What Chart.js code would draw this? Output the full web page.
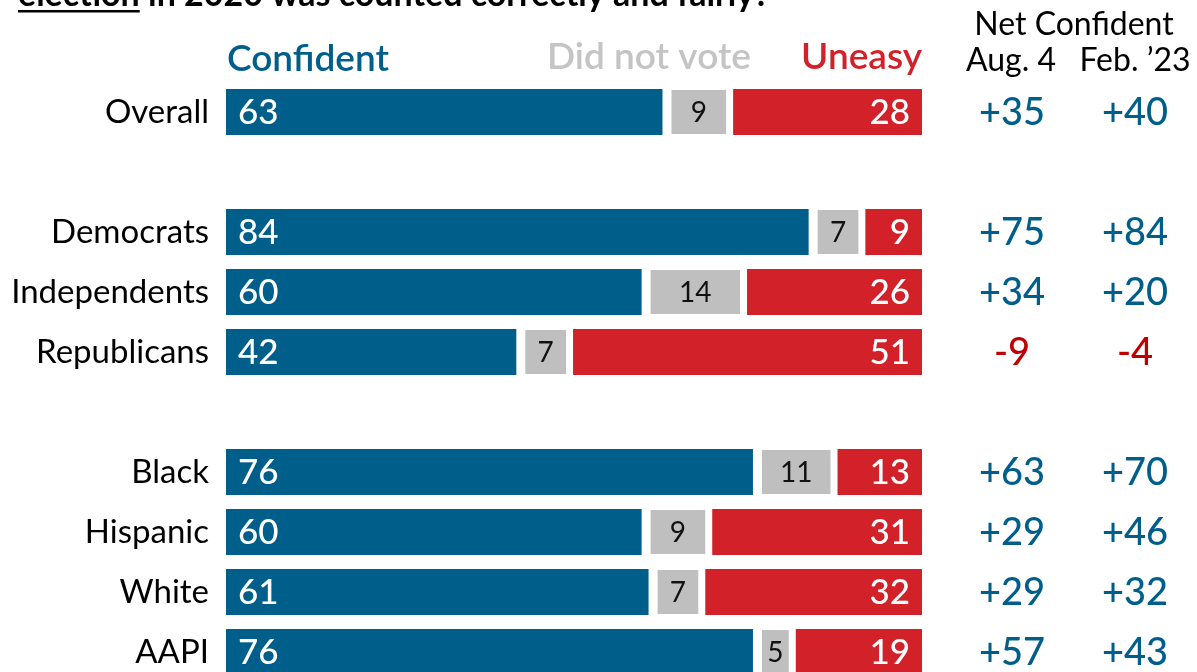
<!DOCTYPE html>
<html><head><meta charset="utf-8">
<script src="https://cdn.jsdelivr.net/npm/chart.js@4.4.1/dist/chart.umd.min.js"></script>
<style>html,body{margin:0;padding:0;background:#fff;overflow:hidden;width:1197px;height:672px}
#wrap{width:1197px;height:672px;overflow:hidden;position:relative}canvas{display:block}</style>
</head><body><div id="wrap"><canvas id="c" width="1197" height="700"></canvas></div>
<script>
const categories = ['Overall','','Democrats','Independents','Republicans','','Black','Hispanic','White','AAPI'];
const confident  = [63,null,84,60,42,null,76,60,61,76];
const didNotVote = [9,null,7,14,7,null,11,9,7,5];
const uneasy     = [28,null,9,26,51,null,13,31,32,19];
const netAug4    = [35,null,75,34,-9,null,63,29,29,57];
const netFeb23   = [40,null,84,20,-4,null,70,46,32,43];
const seriesNames = ['Confident','Did not vote','Uneasy'];
const netHeader = 'Net Confident';
const netColumns = ['Aug. 4','Feb. \u201923'];
const titleUnderlined = 'election';
const titleRest = ' in 2020 was counted correctly and fairly?';

const BLUE = '#005f8a', GRAY = '#bfbfbf', RED = '#d3212a', NEGRED = '#c00000';
const FONT = 'Lato';

function fmtNet(v){ return v > 0 ? '+' + v : String(v); }

const overlay = {
  id: 'overlay',
  afterDatasetsDraw(chart){
    const ctx = chart.ctx;
    ctx.save();
    const metas = [0,1,2].map(i => chart.getDatasetMeta(i));
    categories.forEach((c, j) => {
      if (confident[j] == null) return;
      const b = metas[0].data[j], g = metas[1].data[j], r = metas[2].data[j];
      ctx.textBaseline = 'middle';
      ctx.font = '500 35px ' + FONT;
      ctx.fillStyle = '#fff';
      ctx.textAlign = 'left';
      ctx.fillText(String(confident[j]), b.base + 12, b.y + 1);
      ctx.textAlign = 'right';
      ctx.fillText(String(uneasy[j]), r.x - 12, r.y + 1);
      ctx.font = '28px ' + FONT;
      ctx.fillStyle = '#111';
      ctx.textAlign = 'center';
      ctx.fillText(String(didNotVote[j]), (g.base + 7 + g.x - 1) / 2, g.y + 1);
      ctx.font = '500 38px ' + FONT;
      ctx.fillStyle = netAug4[j] < 0 ? NEGRED : BLUE;
      ctx.fillText(fmtNet(netAug4[j]), 1012, b.y + 1);
      ctx.fillStyle = netFeb23[j] < 0 ? NEGRED : BLUE;
      ctx.fillText(fmtNet(netFeb23[j]), 1135, b.y + 1);
    });
    ctx.textBaseline = 'alphabetic';
    ctx.font = '600 37px ' + FONT;
    ctx.textAlign = 'center';
    ctx.fillStyle = BLUE;
    ctx.fillText(seriesNames[0], 308, 71);
    ctx.fillStyle = '#c4c4c4';
    ctx.fillText(seriesNames[1], 649, 69);
    ctx.textAlign = 'right';
    ctx.fillStyle = RED;
    ctx.fillText(seriesNames[2], 922, 69);
    ctx.fillStyle = '#000';
    ctx.textAlign = 'center';
    ctx.font = '32px ' + FONT;
    ctx.fillText(netHeader, 1074, 35);
    ctx.fillText(netColumns[0], 1011, 71);
    ctx.fillText(netColumns[1], 1135, 71);
    ctx.textAlign = 'left';
    ctx.font = 'bold 34px ' + FONT;
    ctx.fillText(titleUnderlined, 18, 6);
    const w = ctx.measureText(titleUnderlined).width;
    ctx.fillText(titleRest, 18 + w, 6);
    ctx.fillRect(18, 10, w, 2.5);
    ctx.restore();
  }
};

new Chart(document.getElementById('c'), {
  type: 'bar',
  data: {
    labels: categories,
    datasets: [
      {label: seriesNames[0], data: confident, backgroundColor: BLUE, borderColor: '#fff',
       borderWidth: {left: 0, right: 2, top: 0, bottom: 0}, borderSkipped: false},
      {label: seriesNames[1], data: didNotVote, backgroundColor: GRAY, borderColor: '#fff',
       borderWidth: {left: 7, right: 1, top: 1, bottom: 1}, borderSkipped: false},
      {label: seriesNames[2], data: uneasy, backgroundColor: RED, borderColor: '#fff',
       borderWidth: {left: 6, right: 0, top: 0, bottom: 0}, borderSkipped: false}
    ]
  },
  options: {
    indexAxis: 'y',
    responsive: false,
    animation: false,
    events: [],
    layout: {padding: {left: 0, right: 275, top: 82, bottom: 18}},
    datasets: {bar: {barPercentage: 0.77, categoryPercentage: 1}},
    plugins: {legend: {display: false}, tooltip: {enabled: false}},
    scales: {
      x: {stacked: true, min: 0, max: 100, display: false},
      y: {
        stacked: true,
        grid: {display: false, drawTicks: false},
        border: {display: false},
        ticks: {color: '#000', font: {family: FONT, size: 33}, padding: 17},
        afterFit(s){ s.width = 226; s.paddingTop = 0; s.paddingBottom = 0; }
      }
    }
  },
  plugins: [overlay]
});
</script>
</body></html>
